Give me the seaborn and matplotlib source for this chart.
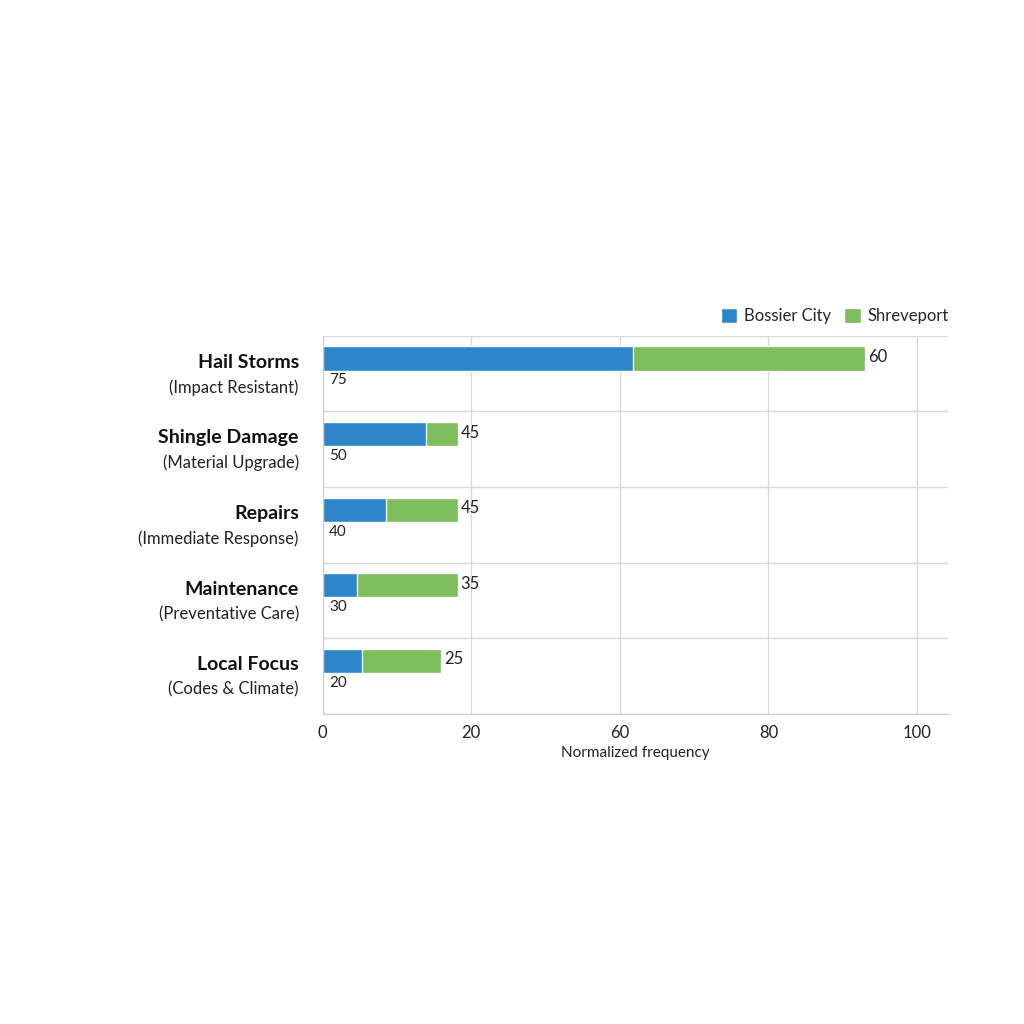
import pandas as pd
import matplotlib.pyplot as plt
import seaborn as sns

temas = ["Hail Storms", "Shingle Damage", "Repairs", "Maintenance", "Local Focus"]
subtitulos = ["(Impact Resistant)", "(Material Upgrade)", "(Immediate Response)",
              "(Preventative Care)", "(Codes & Climate)"]
bossier = [41.8, 13.9, 8.5, 4.7, 5.3]
shreveport = [31.2, 4.3, 9.7, 13.5, 10.7]
etiqueta_bossier = ["75", "50", "40", "30", "20"]
etiqueta_shreve = ["60", "45", "45", "35", "25"]
ticks_pos = [0, 20, 40, 60, 80]
ticks_txt = ["0", "20", "60", "80", "100"]

AZUL = "#2E86C8"
VERDE = "#7DBE5C"

datos = pd.DataFrame({"tema": temas, "bossier": bossier, "shreveport": shreveport})
datos["total"] = datos["bossier"] + datos["shreveport"]

sns.set_style("white")
plt.rcParams["font.family"] = ["Lato", "DejaVu Sans"]

fig = plt.figure(figsize=(10.24, 10.24), dpi=100)
ax = fig.add_axes([0.315, 0.303, 0.611, 0.369])

sns.barplot(data=datos, y="tema", x="total", color=VERDE, orient="h",
            width=0.32, saturation=1, ax=ax, label="Shreveport")
sns.barplot(data=datos, y="tema", x="bossier", color=AZUL, orient="h",
            width=0.32, saturation=1, ax=ax, label="Bossier City")

ax.set_xlim(0, 84.2)
ax.set_ylim(4.70, -0.30)
ax.set_xticks(ticks_pos)
ax.set_xticklabels(ticks_txt, fontsize=12, color="#222222")
ax.tick_params(axis="x", length=0, pad=8)
ax.set_yticks([])
ax.set_ylabel("")
ax.set_xlabel("Normalized frequency", fontsize=11, color="#222222", labelpad=4)

for x in ticks_pos:
    ax.axvline(x, color="#d9d9d9", lw=1, zorder=0)
for i in range(len(temas)):
    ax.axhline(i + 0.70, color="#d9d9d9", lw=1, zorder=0)
ax.axhline(-0.30, color="#d9d9d9", lw=1, zorder=0)
for lado in ["top", "right"]:
    ax.spines[lado].set_visible(False)
ax.spines["left"].set_color("#cccccc")
ax.spines["bottom"].set_color("#cccccc")

for i in range(len(temas)):
    ax.text(-3.2, i + 0.05, temas[i], ha="right", va="center",
            fontsize=14, fontweight="bold", color="#111111")
    ax.text(-3.2, i + 0.38, subtitulos[i], ha="right", va="center",
            fontsize=12, color="#222222")
    ax.text(datos["total"][i] + 0.4, i - 0.02, etiqueta_shreve[i],
            ha="left", va="center", fontsize=12, color="#222222")
    ax.text(0.9, i + 0.29, etiqueta_bossier[i], ha="left", va="center",
            fontsize=11, color="#222222")

handles, labels = ax.get_legend_handles_labels()
ax.legend(handles[::-1], labels[::-1], loc="lower right", bbox_to_anchor=(1.02, 1.0),
          ncol=2, frameon=False, fontsize=12, handlelength=1.0, handleheight=1.0,
          columnspacing=0.8, handletextpad=0.4, borderaxespad=0.3)

plt.savefig("out.png", dpi=100)
plt.close()
